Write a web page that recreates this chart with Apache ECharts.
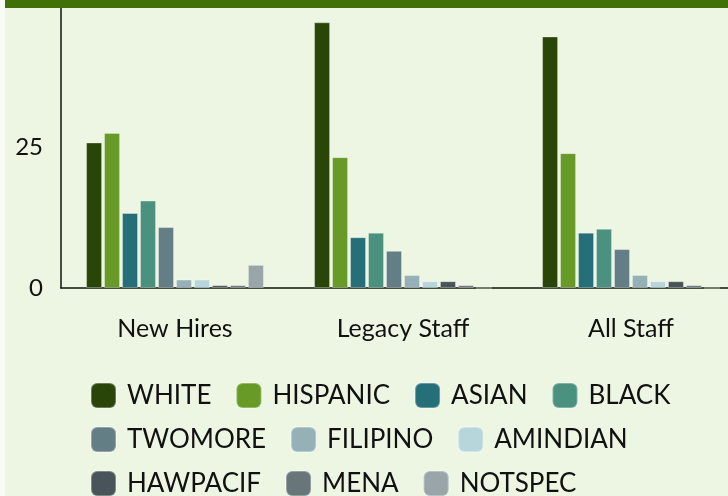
<!DOCTYPE html>
<html>
<head>
<meta charset="utf-8">
<script src="https://cdn.jsdelivr.net/npm/echarts@6/dist/echarts.min.js"></script>
<style>
  html, body { margin: 0; padding: 0; background: #f8faf6; }
  #chart { width: 728px; height: 496px; }
</style>
</head>
<body>
<div id="chart"></div>
<script>
const categories = ['New Hires', 'Legacy Staff', 'All Staff']
const groups = ['WHITE', 'HISPANIC', 'ASIAN', 'BLACK', 'TWOMORE', 'FILIPINO', 'AMINDIAN', 'HAWPACIF', 'MENA', 'NOTSPEC']
const colors = ['#2a4508', '#679a26', '#266f78', '#4a9180', '#647e85', '#95b1b7', '#b7d6dc', '#485459', '#68767a', '#99a5a8']

const white = [25.8, 47.1, 44.6]
const hispanic = [27.5, 23.2, 23.9]
const asian = [13.3, 9.0, 9.8]
const black = [15.5, 9.8, 10.5]
const twomore = [10.8, 6.6, 6.9]
const filipino = [1.5, 2.3, 2.3]
const amindian = [1.5, 1.2, 1.2]
const hawpacif = [0.5, 1.2, 1.2]
const mena = [0.5, 0.5, 0.5]
const notspec = [4.1, 0, 0]

const values = [white, hispanic, asian, black, twomore, filipino, amindian, hawpacif, mena, notspec]

const legendRows = [
  ['WHITE', 'HISPANIC', 'ASIAN', 'BLACK'],
  ['TWOMORE', 'FILIPINO', 'AMINDIAN'],
  ['HAWPACIF', 'MENA', 'NOTSPEC']
]
const legendTops = [382, 426, 470]

const chart = echarts.init(document.getElementById('chart'))

const option = {
  animation: false,
  textStyle: { fontFamily: 'Lato' },
  graphic: [
    { type: 'rect', z: -10, shape: { x: 5, y: 0, width: 723, height: 496 }, style: { fill: '#edf6e3' } },
    { type: 'rect', z: 100, shape: { x: 5, y: 0, width: 723, height: 8 }, style: { fill: '#3f7107' } }
  ],
  // the plot runs past the right edge, as in the cropped original
  grid: { left: 61, top: 6, bottom: 208, right: -17, outerBoundsMode: 'none', containLabel: false },
  legend: legendRows.map((row, i) => ({
    data: row,
    left: 90,
    top: legendTops[i],
    padding: 0,
    itemGap: 24,
    itemWidth: 25,
    itemHeight: 25,
    icon: 'roundRect',
    textStyle: { fontSize: 26, color: '#111', fontFamily: 'Lato', padding: [0, 0, 0, 6], lineHeight: 26 }
  })),
  xAxis: {
    type: 'category',
    data: categories,
    axisLine: { lineStyle: { color: '#111', width: 1.5 } },
    axisTick: { show: false },
    axisLabel: { fontSize: 25, color: '#111', margin: 28 }
  },
  yAxis: {
    type: 'value',
    min: 0,
    max: 50,
    interval: 25,
    axisLine: { show: true, lineStyle: { color: '#111', width: 1.5 } },
    axisTick: { show: false },
    splitLine: { show: false },
    axisLabel: { fontSize: 24, color: '#111', margin: 18, showMaxLabel: false }
  },
  series: groups.map((name, i) => ({
    name: name,
    type: 'bar',
    data: values[i],
    barGap: '12.5%',
    barCategoryGap: '22%',
    itemStyle: { color: colors[i], borderColor: 'rgba(255,255,255,0.3)', borderWidth: 1 }
  }))
}

chart.setOption(option)
</script>
</body>
</html>
